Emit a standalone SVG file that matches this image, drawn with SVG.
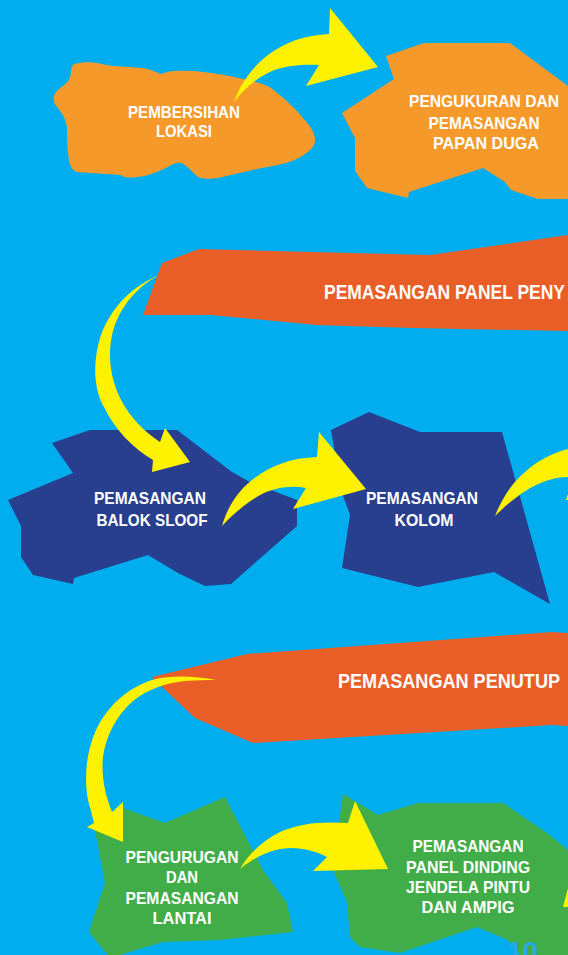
<svg xmlns="http://www.w3.org/2000/svg" width="568" height="955" viewBox="0 0 568 955">
<style>
.bg{fill:#00AEEF}
.orange{fill:#F4992A}
.banner{fill:#E95E27}
.navy{fill:#273F8E}
.green{fill:#41AD49}
.arrow{fill:#FFF200}
.t{font-family:"Liberation Sans",Arial,sans-serif;font-weight:bold;font-size:17px;fill:#FFFFFF;text-anchor:middle}
.tb{font-family:"Liberation Sans",Arial,sans-serif;font-weight:bold;font-size:21px;fill:#FFFFFF}
.pn{font-family:"Liberation Sans",Arial,sans-serif;font-weight:bold;font-size:28px;fill:#27AAE1}
</style>
<rect class="bg" x="0" y="0" width="568" height="955"/>

<g id="node-pembersihan">
<path class="orange" d="M74,64 C90,60 100,64 107,65 C125,68 140,66 151,70 L161,74 C166,72 170,71 175,71 C190,70 205,72 218,74 C230,76 245,79 255,82 C265,84 272,88 276,92 C284,98 290,104 296,110 C303,118 310,125 313,132 C317,140 315,146 309,151 C300,158 292,162 282,164 C270,167 260,168 249,171 C238,173 228,176 218,178 C210,179 202,179 198,177 C192,172 188,166 181,163 C175,162 172,165 168,167 C158,172 148,176 138,177 C130,178 124,178 121,175 C110,174 90,173 77,172 C72,170 70,166 69,160 C67,150 67,140 67,130 C67,120 62,113 57,107 C52,101 53,95 57,91 C62,86 66,84 69,80 C72,74 70,67 74,64 Z"/>
<text class="t" x="184" y="118" textLength="112" lengthAdjust="spacingAndGlyphs">PEMBERSIHAN</text>
<text class="t" x="184" y="137" textLength="56" lengthAdjust="spacingAndGlyphs">LOKASI</text>
</g>

<g id="node-pengukuran">
<polygon class="orange" points="386,56 424,43 510,43 568,86 568,199 538,199 511,190 505,182 483,168 409,192 408,198 367,188 355,171 355,138 342,113 394,79"/>
<text class="t" x="484" y="107" textLength="150" lengthAdjust="spacingAndGlyphs">PENGUKURAN DAN</text>
<text class="t" x="484" y="129" textLength="111" lengthAdjust="spacingAndGlyphs">PEMASANGAN</text>
<text class="t" x="486" y="149" textLength="106" lengthAdjust="spacingAndGlyphs">PAPAN DUGA</text>
</g>

<g id="node-panel-penyangga">
<polygon class="banner" points="162,263 199,249 430,255 568,235 568,331 413,328 317,325 210,315 143,315"/>
<text class="tb" x="324" y="299" textLength="241" lengthAdjust="spacingAndGlyphs">PEMASANGAN PANEL PENY</text>
</g>

<g id="node-balok-sloof">
<polygon class="navy" points="52,443 90,430 177,430 232,472 250,482 297,500 297,526 231,584 205,586 178,573 148,555 74,578 73,584 33,575 21,557 21,526 8,500 73,473"/>
<text class="t" x="150" y="504" textLength="112" lengthAdjust="spacingAndGlyphs">PEMASANGAN</text>
<text class="t" x="152" y="526" textLength="111" lengthAdjust="spacingAndGlyphs">BALOK SLOOF</text>
</g>

<g id="node-kolom">
<polygon class="navy" points="331,430 369,412 420,432 502,432 550,604 494,572 418,587 342,568 350,515 341,490"/>
<text class="t" x="422" y="504" textLength="112" lengthAdjust="spacingAndGlyphs">PEMASANGAN</text>
<text class="t" x="424" y="526" textLength="59" lengthAdjust="spacingAndGlyphs">KOLOM</text>
</g>

<g id="node-penutup">
<polygon class="banner" points="152,677 247,654 552,632 568,633 568,726 552,725 253,743 195,718 160,685"/>
<text class="tb" x="338" y="688" textLength="222" lengthAdjust="spacingAndGlyphs">PEMASANGAN PENUTUP</text>
</g>

<g id="node-pengurugan">
<polygon class="green" points="95,830 123,808 165,823 225,797 263,870 287,903 293,932 220,940 163,942 110,958 89,932 105,883"/>
<text class="t" x="182" y="863" textLength="113" lengthAdjust="spacingAndGlyphs">PENGURUGAN</text>
<text class="t" x="182" y="883" textLength="32" lengthAdjust="spacingAndGlyphs">DAN</text>
<text class="t" x="182" y="904" textLength="113" lengthAdjust="spacingAndGlyphs">PEMASANGAN</text>
<text class="t" x="182" y="924" textLength="59" lengthAdjust="spacingAndGlyphs">LANTAI</text>
</g>

<g id="node-panel-dinding">
<polygon class="green" points="343,794 378,815 418,803 503,803 547,833 568,850 568,955 520,955 508,940 477,927 400,953 360,947 350,937 347,902 333,870 336,840"/>
<text class="t" x="468" y="852" textLength="111" lengthAdjust="spacingAndGlyphs">PEMASANGAN</text>
<text class="t" x="468" y="873" textLength="124" lengthAdjust="spacingAndGlyphs">PANEL DINDING</text>
<text class="t" x="468" y="893" textLength="124" lengthAdjust="spacingAndGlyphs">JENDELA PINTU</text>
<text class="t" x="468" y="913" textLength="93" lengthAdjust="spacingAndGlyphs">DAN AMPIG</text>
<text class="pn" x="507" y="961">10</text>
</g>

<g id="connectors">
<path class="arrow" d="M234,102 C240,85 252,67 268,55 C285,42 305,35 329,34 L330,8 L378,67 L306,86 L319,65 C300,64 285,66 272,71 C258,77 245,88 234,102 Z"/>
<path class="arrow" d="M159,275 C135,285 112,305 101,335 C92,362 94,390 104,407 C115,430 133,448 153,460 L152,472 L190,462 L165,428 L160,442 C145,432 130,418 120,398 C108,372 107,345 116,322 C124,302 140,285 159,275 Z"/>
<path class="arrow" d="M222,526 C228,505 240,488 256,477 C272,465 292,458 317,457 L319,432 L366,489 L293,509 L306,488 C290,485 275,488 262,494 C248,502 235,512 222,526 Z"/>
<path class="arrow" d="M495,516 C502,498 512,483 525,472 C537,461 552,453 568,449 L568,477 C555,477 545,481 536,485 C522,492 508,503 495,516 Z"/>
<polygon class="arrow" points="566,500 568,494 568,500"/>
<path class="arrow" d="M216,680 C195,676 172,675 152,680 C128,688 108,705 96,730 C86,752 84,778 88,800 L94,823 L87,827 L123,842 L123,802 L112,812 C105,795 101,775 103,757 C106,735 117,715 133,701 C148,689 166,683 185,681 C197,680 207,680 216,680 Z"/>
<path class="arrow" d="M240,869 C248,855 262,841 280,832 C298,824 318,821 348,823 L355,801 L388,869 L313,871 L327,857 C318,852 305,848 290,848 C272,849 256,856 240,869 Z"/>
<polygon class="arrow" points="568,888 563,907 568,907"/>
</g>
</svg>
